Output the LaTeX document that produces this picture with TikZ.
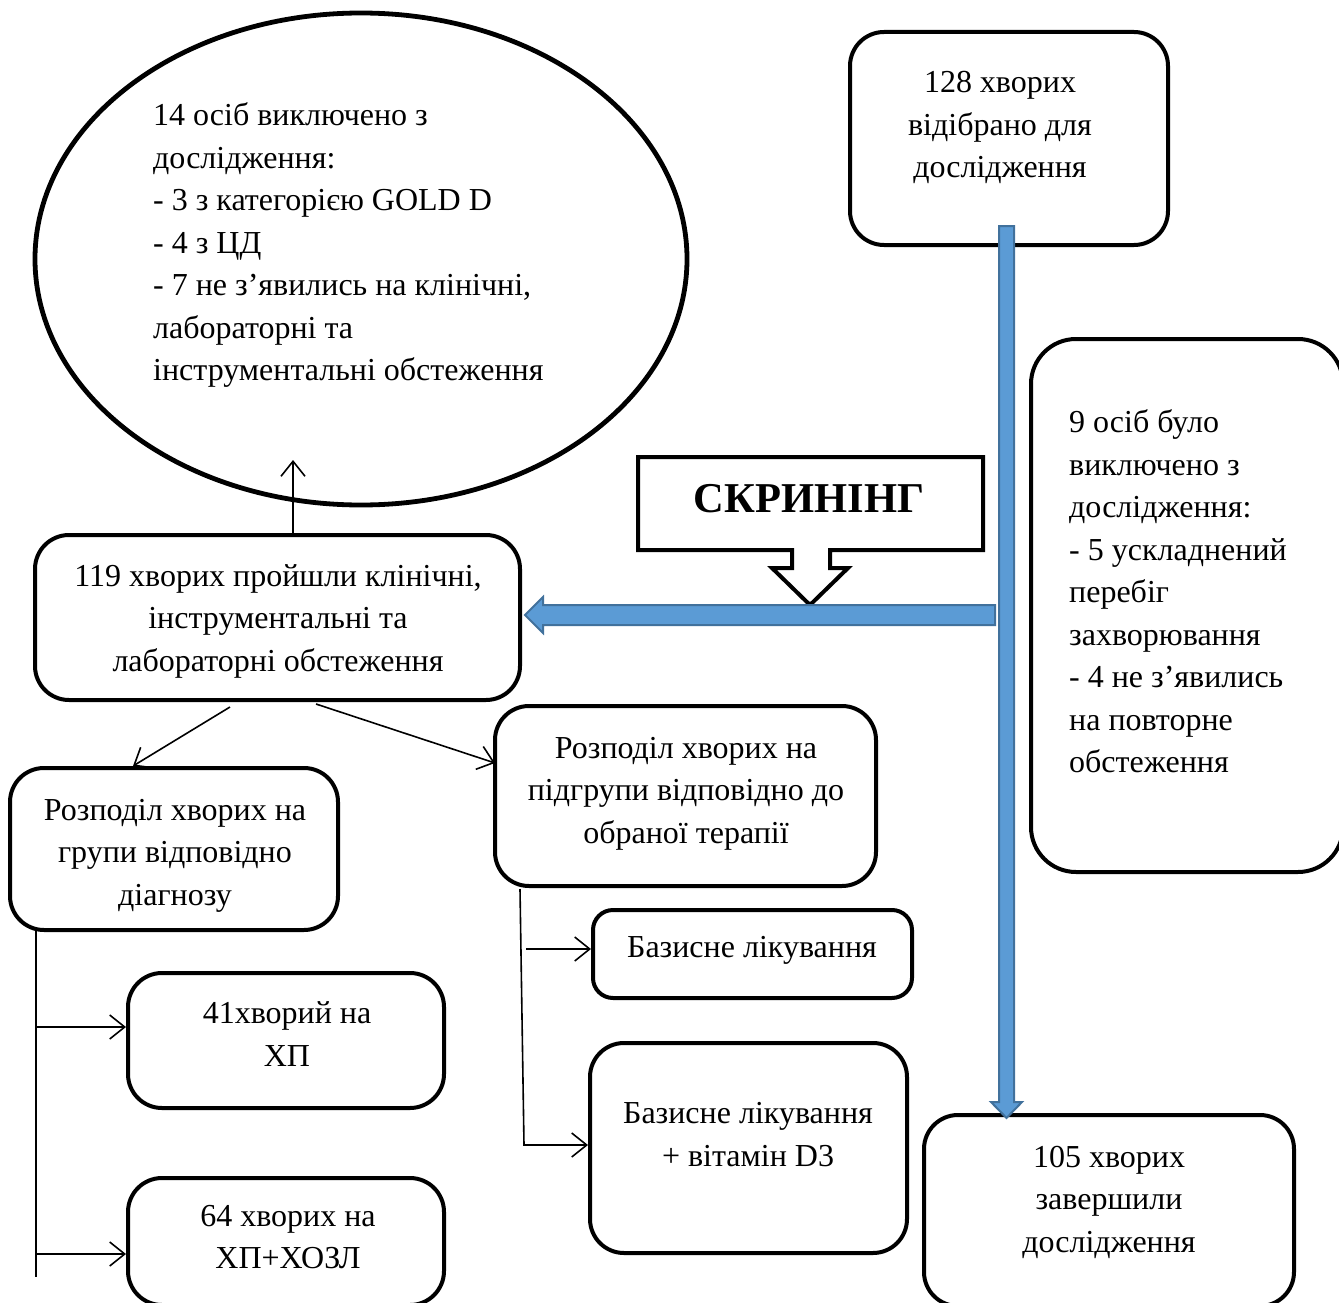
\documentclass[tikz,border=0pt]{standalone}
\usepackage{fontspec}
\setmainfont{Liberation Serif}
\usetikzlibrary{arrows.meta,shapes.geometric}
\definecolor{bluefill}{HTML}{5B9BD5}
\definecolor{blueedge}{HTML}{41719C}
\begin{document}
\begin{tikzpicture}[x=1pt,y=-1pt,
  box/.style={draw,line width=4pt,rounded corners=34pt,inner sep=0pt,minimum width=#1},
  txt/.style={font=\fontsize{32}{42.5}\selectfont,align=center,inner sep=0pt},
  ltxt/.style={font=\fontsize{32}{42.5}\selectfont,align=left,inner sep=0pt,anchor=west},
  conn/.style={line width=1.6pt,-{Straight Barb[length=15pt,width=24pt,line width=1.6pt]}},
  blue/.style={fill=bluefill,draw=blueedge,line width=2pt,line join=miter}
]
\useasboundingbox (0,0) rectangle (1339,1303);
\clip (0,0) rectangle (1339,1303);

% ellipse
\node[draw,ellipse,line width=4.8pt,minimum width=652pt,minimum height=492pt,inner sep=0pt] (ell) at (361,259) {};
\node[ltxt] (tell) at (153,245) {14 осіб виключено з\\дослідження:\\- 3 з категорією GOLD D\\- 4 з ЦД\\- 7 не з’явились на клінічні,\\лабораторні та\\інструментальні обстеження};

% boxes
\node[box=318pt,minimum height=213pt] (b128) at (1009,138.5) {};
\node[txt] (t128) at (1000,127.5) {128 хворих\\відібрано для\\дослідження};

\node[box=312pt,minimum height=533pt,rounded corners=45pt] (b9) at (1187,605.5) {};
\node[ltxt] (t9) at (1069,591.5) {9 осіб було\\виключено з\\дослідження:\\- 5 ускладнений\\перебіг\\захворювання\\- 4 не з’явились\\на повторне\\обстеження};

\node[box=485pt,minimum height=165pt] (b119) at (277.5,617.5) {};
\node[txt] (t119) at (278,621) {119 хворих пройшли клінічні,\\інструментальні та\\лабораторні обстеження};

\node[box=328pt,minimum height=162pt] (bgr) at (174,849) {};
\node[txt] (tgr) at (175,855.5) {Розподіл хворих на\\групи відповідно\\діагнозу};

\node[box=381pt,minimum height=180pt] (bsub) at (685.5,796) {};
\node[txt] (tsub) at (686,793.5) {Розподіл хворих на\\підгрупи відповідно до\\обраної терапії};

\node[box=319pt,minimum height=88pt,rounded corners=20pt] (bbas) at (752.5,954) {};
\node[txt] (tbas) at (752,950) {Базисне лікування};

\node[box=317pt,minimum height=210pt] (bd3) at (748.5,1148) {};
\node[txt] (td3) at (748,1134.5) {Базисне лікування\\+ вітамін D3};

\node[box=316pt,minimum height=135pt] (b41) at (286,1040.5) {};
\node[txt] (t41) at (287,1034) {41хворий на\\ХП};

\node[box=316pt,minimum height=127pt] (b64) at (286,1241.5) {};
\node[txt] (t64) at (288,1237) {64 хворих на\\ХП+ХОЗЛ};

\node[box=370pt,minimum height=191pt] (b105) at (1109,1210.5) {};
\node[txt] (t105) at (1109,1202) {105 хворих\\завершили\\дослідження};

% screening callout
\draw[line width=4pt,line join=miter,fill=white] (638,457) -- (983,457) -- (983,550) -- (830,550) -- (830,568) -- (848,568) -- (810,605) -- (772,568) -- (792,568) -- (792,550) -- (638,550) -- cycle;
\node[font=\fontsize{42.5}{50}\selectfont\bfseries,inner sep=0pt] (scr) at (809,499) {СКРИНІНГ};

% blue arrows
\draw[blue] (995,605) -- (543,605) -- (543,597) -- (525,615) -- (543,633) -- (543,625) -- (995,625) -- cycle;
\draw[blue] (999,226) -- (1014,226) -- (1014,1102) -- (1022,1102) -- (1006.5,1118) -- (991,1102) -- (999,1102) -- cycle;

% connectors
\coordinate (ellTip) at (293,460);
\draw[conn] (b119.north -| ellTip) -- (ellTip);
\coordinate (s1) at (230,707);
\coordinate (e1) at (133,766);
\draw[conn] (s1) -- (e1);
\coordinate (s2) at (316,704);
\coordinate (e2) at (495,763);
\draw[conn] (s2) -- (e2);
\coordinate (lt0) at (36,930);
\coordinate (lt1) at (36,1277);
\draw[line width=1.6pt] (lt0) -- (lt1);
\draw[conn] (36,1027) -- (b41.west |- 0,1027);
\draw[conn] (36,1254) -- (b64.west |- 0,1254);
\coordinate (rt0) at (520,889);
\coordinate (rt1) at (524,1145);
\draw[conn] (rt0) -- (rt1) -- (bd3.west |- rt1);
\coordinate (rb) at (526,949);
\draw[conn] (rb) -- (bbas.west |- rb);
\end{tikzpicture}
\end{document}
